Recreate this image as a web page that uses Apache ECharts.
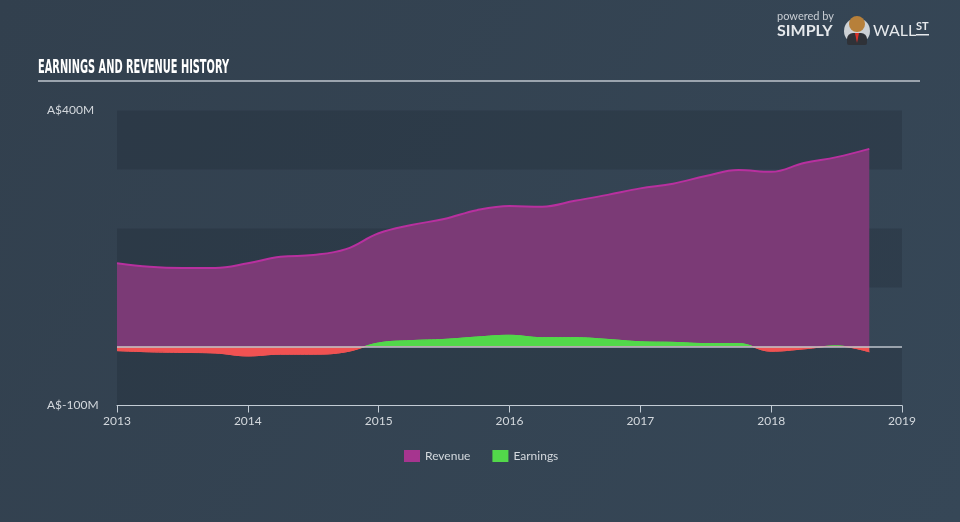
<!DOCTYPE html>
<html>
<head>
<meta charset="utf-8">
<script src="https://cdn.jsdelivr.net/npm/echarts@6/dist/echarts.min.js"></script>
<style>
html,body{margin:0;padding:0;width:960px;height:522px;overflow:hidden;background:#344453;}
#c{width:960px;height:522px;}
</style>
</head>
<body>
<div id="c"></div>
<script>
// Time in fractional years (quarterly)
const periods = [2013.0, 2013.25, 2013.5, 2013.75, 2014.0, 2014.25, 2014.5, 2014.75,
  2015.0, 2015.25, 2015.5, 2015.75, 2016.0, 2016.25, 2016.5, 2016.75,
  2017.0, 2017.25, 2017.5, 2017.75, 2018.0, 2018.25, 2018.5, 2018.75];
// A$ millions
const revenue = [141, 135, 133, 133, 141, 152, 155, 165,
  192, 206, 216, 231, 238, 237, 247, 257,
  268, 276, 289, 299, 296, 311, 321, 335];
const earnings = [-7, -9, -10, -11, -16, -13, -13, -9,
  6, 10, 12, 16, 19, 15, 15, 12,
  8, 7, 5, 5, -8, -4, 1, -9];
const yearTicks = [2013, 2014, 2015, 2016, 2017, 2018, 2019];
const yLabels = {400: 'A$400M', '-100': 'A$-100M'};
const titleText = 'EARNINGS AND REVENUE HISTORY';

const GREEN = '#52d84a', RED = '#f05252';
const font = 'Lato, "Open Sans", sans-serif';
const titleFont = 'bold 20px "DejaVu Sans Condensed", "DejaVu Sans", sans-serif';

// horizontal squeeze so the title spans the same width as the reference
const cv = document.createElement('canvas').getContext('2d');
cv.font = titleFont;
const titleScale = 191 / cv.measureText(titleText).width;

const chart = echarts.init(document.getElementById('c'));
const option = {
  backgroundColor: {
    type: 'linear', x: 0, y: 0, x2: 1, y2: 1,
    colorStops: [{offset: 0, color: '#32404e'}, {offset: 1, color: '#364757'}]
  },
  animation: false,
  graphic: [
    {type: 'text', x: 38, y: 58, scaleX: titleScale, style: {text: titleText, fill: '#ffffff', font: titleFont}},
    {type: 'rect', shape: {x: 38, y: 80, width: 882, height: 2}, style: {fill: '#9ba4ae'}, silent: true},
    {type: 'text', left: 777, top: 11, style: {text: 'powered by', fill: '#c9ced4', font: '11px ' + font}},
    {type: 'text', left: 777, top: 23, style: {text: 'SIMPLY', fill: '#e6e9ec', font: 'bold 16px ' + font}},
    {type: 'circle', shape: {cx: 857, cy: 31, r: 13}, style: {fill: '#cdd1d5'}},
    {type: 'rect', shape: {x: 847, y: 33, width: 20, height: 12, r: [6, 6, 2, 2]}, style: {fill: '#2f3238'}},
    {type: 'polygon', shape: {points: [[855, 33], [859, 33], [857, 43]]}, style: {fill: '#d8322a'}},
    {type: 'circle', shape: {cx: 857, cy: 24, r: 8}, style: {fill: '#b7803a'}},
    {type: 'text', left: 873, top: 23, style: {text: 'WALL', fill: '#e6e9ec', font: '16px ' + font}},
    {type: 'text', left: 916, top: 21, style: {text: 'ST', fill: '#e6e9ec', font: 'bold 11px ' + font}},
    {type: 'rect', shape: {x: 916, y: 34, width: 13, height: 1.5}, style: {fill: '#e6e9ec'}}
  ],
  legend: {
    bottom: 55, left: 399, itemWidth: 16, itemHeight: 12, itemGap: 22,
    textStyle: {color: '#d3d8dd', fontSize: 12, fontFamily: font},
    data: [
      {name: 'Revenue', icon: 'rect', itemStyle: {color: '#a6358f'}},
      {name: 'Earnings', icon: 'rect', itemStyle: {color: GREEN}}
    ]
  },
  grid: {left: 117, right: 58, top: 110.5, bottom: 116.5},
  xAxis: {
    type: 'value', min: 2013, max: 2019, interval: 1,
    axisLine: {onZero: false, lineStyle: {color: '#c3ccd5', width: 1}},
    axisTick: {show: true, length: 7, lineStyle: {color: '#c3ccd5'}},
    splitLine: {show: false},
    axisLabel: {color: '#d3d8dd', fontSize: 12, fontFamily: font, margin: 10,
      formatter: v => yearTicks.includes(v) ? String(v) : ''}
  },
  yAxis: {
    type: 'value', min: -100, max: 400, interval: 100,
    axisLine: {show: false}, axisTick: {show: false},
    splitLine: {show: false},
    splitArea: {show: true, areaStyle: {color: ['rgba(30,40,52,0.28)', 'rgba(0,0,0,0)']}},
    axisLabel: {color: '#d3d8dd', fontSize: 12, fontFamily: font, align: 'left', margin: 70,
      formatter: v => yLabels[v] || ''}
  },
  series: [
    {
      name: 'Revenue', type: 'line', smooth: 0.4, showSymbol: false,
      data: periods.map((p, i) => [p, revenue[i]]),
      itemStyle: {color: '#a6358f'},
      lineStyle: {color: '#b8309f', width: 2},
      areaStyle: {color: '#7b3a76', opacity: 1},
      z: 2
    },
    {
      name: 'Earnings', type: 'line', smooth: 0.4, showSymbol: false,
      data: periods.map((p, i) => [p, earnings[i]]),
      itemStyle: {color: GREEN},
      lineStyle: {width: 1, color: GREEN},
      areaStyle: {opacity: 1, color: GREEN},
      z: 3,
      markLine: {
        silent: true, symbol: 'none', label: {show: false},
        lineStyle: {color: 'rgba(190,196,204,0.75)', width: 2, type: 'solid'},
        data: [{yAxis: 0}]
      }
    }
  ]
};
chart.setOption(option);

// split earnings colour at zero using the axis' own pixel mapping
const yTop = chart.convertToPixel({yAxisIndex: 0}, 400);
const yBot = chart.convertToPixel({yAxisIndex: 0}, -100);
const yZero = chart.convertToPixel({yAxisIndex: 0}, 0);
const t = (yZero - yTop) / (yBot - yTop);
const grad = {
  type: 'linear', x: 0, y: yTop, x2: 0, y2: yBot, global: true,
  colorStops: [
    {offset: 0, color: GREEN}, {offset: t, color: GREEN},
    {offset: t, color: RED}, {offset: 1, color: RED}
  ]
};
chart.setOption({series: [{}, {lineStyle: {color: grad}, areaStyle: {color: grad}}]});
</script>
</body>
</html>
